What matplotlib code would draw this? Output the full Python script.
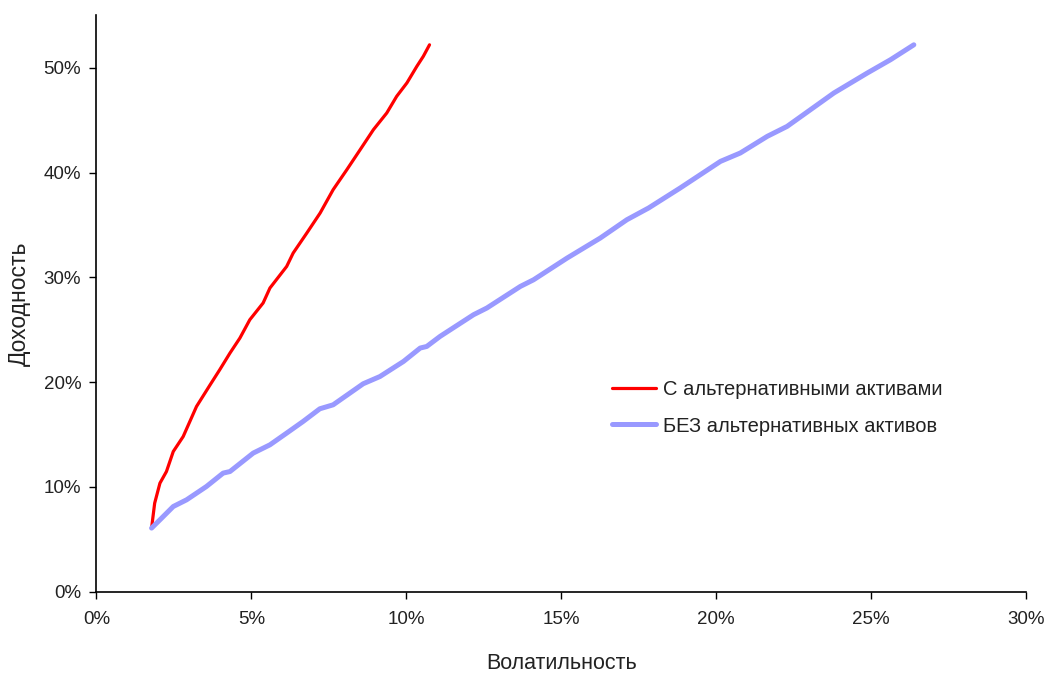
import matplotlib.pyplot as plt
import numpy as np
from matplotlib.ticker import FuncFormatter, MultipleLocator

plt.rcParams['font.family'] = ['Liberation Sans', 'DejaVu Sans']

# volatility (%) / return (%)
alt_vol = [1.78, 1.88, 2.05, 2.26, 2.48, 2.80, 3.23, 3.67, 3.98, 4.31, 4.63, 4.95,
           5.38, 5.60, 6.14, 6.35, 6.79, 7.22, 7.64, 8.08, 8.51, 8.94, 9.37, 9.69,
           10.02, 10.34, 10.55, 10.75]
alt_ret = [6.06, 8.44, 10.35, 11.46, 13.37, 14.80, 17.67, 19.74, 21.18, 22.77, 24.20,
           25.95, 27.55, 28.98, 31.04, 32.32, 34.23, 36.14, 38.37, 40.27, 42.18, 44.10,
           45.69, 47.28, 48.56, 50.14, 51.10, 52.20]

noalt_vol = [1.78, 2.05, 2.48, 2.91, 3.55, 4.09, 4.31, 5.06, 5.60, 6.14, 6.67, 7.21,
             7.64, 8.61, 9.15, 9.91, 10.45, 10.66, 11.09, 12.17, 12.60, 13.68, 14.11,
             15.19, 16.26, 17.12, 17.82, 18.84, 20.14, 20.78, 21.65, 22.29, 23.80,
             24.88, 25.63, 26.38]
noalt_ret = [6.06, 6.85, 8.12, 8.76, 10.03, 11.31, 11.46, 13.22, 14.01, 15.13, 16.24,
             17.45, 17.83, 19.84, 20.53, 21.97, 23.25, 23.40, 24.36, 26.43, 27.07,
             29.13, 29.77, 31.84, 33.75, 35.50, 36.62, 38.53, 41.07, 41.87, 43.46,
             44.41, 47.60, 49.51, 50.78, 52.20]

labels = ['С альтернативными активами', 'БЕЗ альтернативных активов']

fig = plt.figure(figsize=(10.48, 6.73), dpi=100)
ax = fig.add_axes([0.092, 0.121, 0.887, 0.856])

ax.plot(alt_vol, alt_ret, color='#FF0000', linewidth=2.3, label=labels[0],
        solid_capstyle='round', solid_joinstyle='round')
ax.plot(noalt_vol, noalt_ret, color='#9999FF', linewidth=3.6, label=labels[1],
        solid_capstyle='round', solid_joinstyle='round')

ax.set_xlim(0, 30)
ax.set_ylim(0, 55)
ax.xaxis.set_major_locator(MultipleLocator(5))
ax.yaxis.set_major_locator(MultipleLocator(10))
pct = FuncFormatter(lambda v, p: '{:.0f}%'.format(v))
ax.xaxis.set_major_formatter(pct)
ax.yaxis.set_major_formatter(pct)
ax.tick_params(labelsize=13.5, length=5, width=1, colors='black', labelcolor='#222222',
               direction='out')
ax.tick_params(axis='x', pad=9)
ax.tick_params(axis='y', pad=6)

ax.spines['top'].set_visible(False)
ax.spines['right'].set_visible(False)
ax.spines['left'].set_linewidth(1.2)
ax.spines['bottom'].set_linewidth(1.2)

ax.set_xlabel('Волатильность', fontsize=15.5, labelpad=18, color='#222222')
ax.set_ylabel('Доходность', fontsize=16.5, labelpad=9, color='#222222')

ax.legend(loc='upper left', bbox_to_anchor=(0.5355, 0.398), frameon=False,
          fontsize=14.5, handlelength=2.15, handletextpad=0.35, labelspacing=0.85,
          labelcolor='#222222')

fig.savefig('out.png', dpi=100)
